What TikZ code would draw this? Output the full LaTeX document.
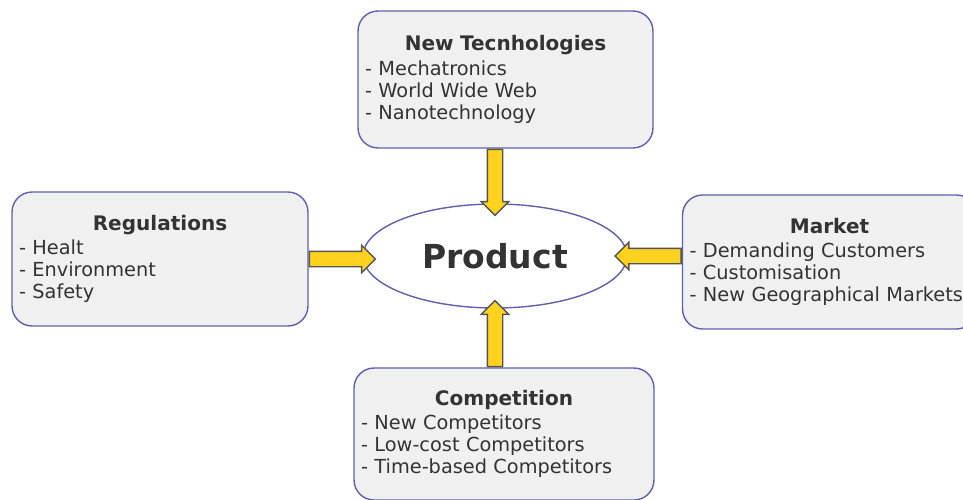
\documentclass[tikz,border=0pt]{standalone}
\usepackage{fontspec}
\setmainfont{DejaVu Sans}
\usetikzlibrary{shapes.geometric,shapes.arrows}
\definecolor{boxfill}{HTML}{F0F0F0}
\definecolor{boxline}{HTML}{6060B0}
\definecolor{txt}{HTML}{333333}
\definecolor{arrfill}{HTML}{FFD21F}
\definecolor{arrline}{HTML}{555555}
\newcommand{\factortitle}[1]{{\centering\fontsize{11.4}{12.75}\selectfont\bfseries #1\par}\vspace{1.2pt}}
\begin{document}
\begin{tikzpicture}[x=0.02cm,y=-0.02cm,
    factorbox/.style={draw=boxline,fill=boxfill,rounded corners=0.4cm,thick,text=txt,
      inner xsep=0.14cm,inner ysep=0pt,align=left,font=\fontsize{11}{12.6}\selectfont},
    productnode/.style={ellipse,draw=boxline,fill=white,thick,minimum width=5.28cm,
      minimum height=2.08cm,text=txt,font=\fontsize{18.8}{22}\selectfont\bfseries},
    pusharrow/.style={single arrow,draw=arrline,fill=arrfill,thick,inner xsep=0pt,inner ysep=0.14cm,
      single arrow head extend=0.12cm,minimum height=1.32cm,
      sloped,allow upside down,pos=0,anchor=tail}]
                \useasboundingbox (0,0) rectangle (963,500);
                \clip (0,0) rectangle (963,500);
                \node[productnode] (product) at (495,256) {Product};
                \node[factorbox,text width=5.62cm,minimum height=2.74cm] (newtech) at (505.5,79.5)
                  {\factortitle{New Tecnhologies}- Mechatronics\\- World Wide Web\\- Nanotechnology};
                \node[factorbox,text width=5.64cm,minimum height=2.68cm] (regs) at (160,259)
                  {\factortitle{Regulations}- Healt\\- Environment\\- Safety};
                \node[factorbox,text width=5.6cm,minimum height=2.68cm] (market) at (829.5,262)
                  {\factortitle{Market}- Demanding Customers\\- Customisation\\- New Geographical Markets};
                \node[factorbox,text width=5.72cm,minimum height=2.64cm] (comp) at (504,434)
                  {\factortitle{Competition}- New Competitors\\- Low-cost Competitors\\- Time-based Competitors};
                \path (product |- newtech.south) -- node[pusharrow] {} (product.north);
                \path (regs.east) -- node[pusharrow] {} (regs.east -| product.west);
                \path (market.west |- product) -- node[pusharrow] {} (product.east);
                \path (product |- comp.north) -- node[pusharrow] {} (product.south);
            \end{tikzpicture}
\end{document}
